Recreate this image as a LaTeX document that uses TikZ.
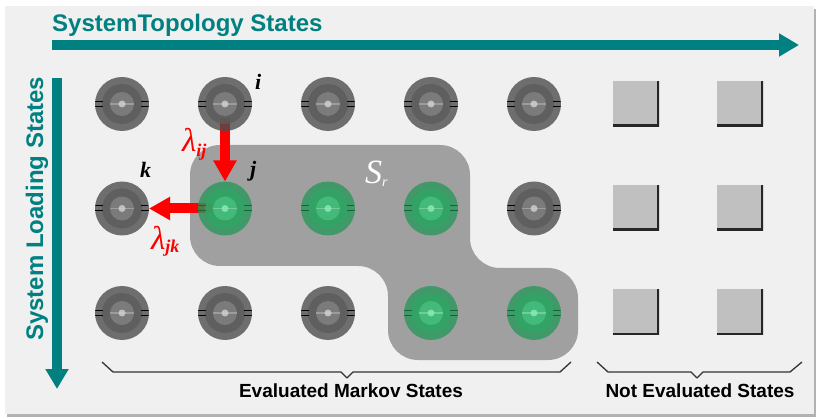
\documentclass[tikz,border=0pt]{standalone}
\usepackage{fontspec}
\setmainfont{Liberation Sans}
\newfontfamily\timesfont{Liberation Serif}
\usepackage{xcolor}
\definecolor{stteal}{RGB}{0,128,128}
\definecolor{stred}{RGB}{255,0,0}
\definecolor{stpanel}{RGB}{240,240,240}
\definecolor{stblob}{RGB}{160,160,160}
\definecolor{stbox}{RGB}{192,192,192}
\definecolor{dkout}{RGB}{78,78,78}
\definecolor{dkmid}{RGB}{92,92,92}
\definecolor{dkin}{RGB}{130,130,130}
\definecolor{dkcore}{RGB}{210,210,210}
\definecolor{gnout}{RGB}{42,152,92}
\definecolor{gnmid}{RGB}{48,165,100}
\definecolor{gnin}{RGB}{72,192,128}
\definecolor{gncore}{RGB}{140,235,185}
\definecolor{gntick}{RGB}{20,100,55}
\usepackage{tikz}
\usetikzlibrary{arrows.meta,backgrounds}
% rings inside one state disc: mid, inner, core, tick colour
\newcommand{\discrings}[4]{%
  \fill[#1] (path picture bounding box.center) circle (20pt);
  \fill[#2] (path picture bounding box.center) circle (12pt);
  \draw[white,opacity=.25,line width=1.5pt] ([xshift=-12pt]path picture bounding box.center) -- ++(24,0);
  \fill[#3] (path picture bounding box.center) circle (3.5pt);
  \draw[#4,line width=1pt] ([xshift=-27pt,yshift=2.5pt]path picture bounding box.center) -- ++(8,0);
  \draw[#4,line width=1pt] ([xshift=-27pt,yshift=-2.5pt]path picture bounding box.center) -- ++(8,0);
  \draw[#4,line width=1pt] ([xshift=19pt,yshift=2.5pt]path picture bounding box.center) -- ++(8,0);
  \draw[#4,line width=1pt] ([xshift=19pt,yshift=-2.5pt]path picture bounding box.center) -- ++(8,0);}
\tikzset{
  state/.style={circle,minimum size=54pt,inner sep=0pt,outer sep=0pt,fill opacity=.8},
  grey state/.style={state,fill=dkout,path picture={\discrings{dkmid}{dkin}{dkcore}{black}}},
  green state/.style={state,fill=gnout,path picture={\discrings{gnmid}{gnin}{gncore}{gntick}}},
  open state/.style={rectangle,minimum width=46pt,minimum height=45pt,inner sep=0pt,fill=stbox,
    path picture={\draw[black!85,line width=4pt] (path picture bounding box.north east)
      -- (path picture bounding box.south east) -- (path picture bounding box.south west);}},
  axis/.style={stteal,line width=10pt,-{Triangle[width=22pt,length=20pt]}},
  axislabel/.style={text=stteal,font=\fontsize{24}{24}\selectfont\bfseries,inner sep=0pt},
  rate/.style={stred,line width=10pt,-{Triangle[width=22pt,length=21pt]}},
  bracket/.style={black!80,line width=1.3pt,line join=round},
  bracketlabel/.style={font=\fontsize{19}{19}\selectfont\bfseries,inner sep=0pt},
  idx/.style={font=\timesfont\fontsize{22}{22}\selectfont\bfseries\itshape,inner sep=0pt,anchor=base west},
}
\begin{document}
\begin{tikzpicture}[x=1pt,y=-1pt]
\useasboundingbox (0,0) rectangle (821,419);
% ---- states ----
\foreach \r/\c in {1/1,1/2,1/3,1/4,1/5,2/1,2/5,3/1,3/2,3/3}
  \node[grey state] (s\r\c) at ({122+103*(\c-1)},{104+104.5*(\r-1)}) {};
\foreach \r/\c in {2/2,2/3,2/4,3/4,3/5}
  \node[green state] (s\r\c) at ({122+103*(\c-1)},{104+104.5*(\r-1)}) {};
\foreach \r in {1,2,3}
  \foreach \c in {6,7}
    \node[open state] (s\r\c) at ({636+104*(\c-6)},{104+104*(\r-1)}) {};
% ---- panel, region and transitions go under the discs ----
\begin{scope}[on background layer]
\fill[white] (0,0) rectangle (821,419);
\fill[black!30] (7,9) rectangle (816,417);
\fill[stpanel] (5,6) rectangle (814,414);
% region S_r
\fill[stblob,rounded corners=30pt] (190,145) -- (470,145) -- (470,268) -- (578,268)
  -- (578,360) -- (388,360) -- (388,266) -- (190,266) -- cycle;
\draw[rate] ([yshift=-14pt]s12.center) -- (s22.north);
\draw[rate] ([xshift=-13pt]s22.center) -- (s21.east);
\end{scope}
% ---- axes ----
\coordinate (topo0) at (52,45);
\coordinate (topo1) at (799,45);
\coordinate (load0) at (57,78);
\coordinate (load1) at (57,389);
\draw[axis] (topo0) -- (topo1);
\draw[axis] (load0) -- (load1);
\node[axislabel,anchor=base west] (topo) at (52,32) {SystemTopology States};
\node[axislabel,anchor=base west,rotate=90] (load) at (43,341) {System Loading States};
% ---- labels ----
\node[idx] (li) at (255,90) {i};
\node[idx] (lj) at (250,177) {j};
\node[idx] (lk) at (140,178) {k};
\node[text=stred,inner sep=0pt,anchor=base west] (lij) at (182,152)
  {\timesfont\fontsize{33}{33}\selectfont\itshape λ\raisebox{-5pt}{\fontsize{18}{18}\selectfont\bfseries ij}};
\node[text=stred,inner sep=0pt,anchor=base west] (ljk) at (151,250)
  {\timesfont\fontsize{33}{33}\selectfont\itshape λ\raisebox{-3pt}{\fontsize{18}{18}\selectfont\bfseries jk}};
\node[text=white,inner sep=0pt,anchor=base west] (sr) at (365,184)
  {\timesfont\fontsize{34}{34}\selectfont\itshape S\raisebox{-3pt}{\fontsize{14}{14}\selectfont r}};
% ---- braces ----
\draw[bracket] (102,362) -- (113,372) -- (341,372) -- (347,378) -- (353,372) -- (560,372) -- (571,362);
\draw[bracket] (597,362) -- (608,372) -- (691,372) -- (697,378) -- (703,372) -- (790,372) -- (802,362);
\node[bracketlabel] (evl) at (351,391) {Evaluated Markov States};
\node[bracketlabel] (nev) at (700,391) {Not Evaluated States};
\end{tikzpicture}
\end{document}
